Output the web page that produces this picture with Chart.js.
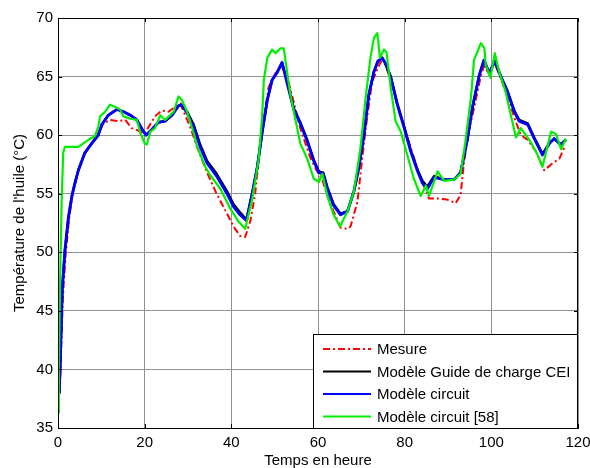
<!DOCTYPE html>
<html lang="fr">
<head>
<meta charset="utf-8">
<title>Température de l'huile</title>
<script src="https://cdn.jsdelivr.net/npm/chart.js@4.4.1/dist/chart.umd.min.js"></script>
<style>
    html, body { margin: 0; padding: 0; background: #fff; }
    #wrap { width: 590px; height: 468px; }
</style>
</head>
<body>
<div id="wrap"><canvas id="oilChart" width="590" height="468"></canvas></div>
<script>
// ===== Data (time in hours, temperature in °C) =====
const xTicks = [0, 20, 40, 60, 80, 100, 120];
const yTicks = [35, 40, 45, 50, 55, 60, 65, 70];

const mesureX = [0.3, 0.6, 1.1, 1.8, 2.6, 3.4, 4.7, 6.2, 7.8, 9.3, 10.5, 12.0, 13.9, 15.5, 17.0, 18.5, 19.9, 20.9, 22.4, 23.9, 25.5, 27.0, 28.2, 30.5, 32.1, 34.4, 36.6, 39.0, 40.5, 42.0, 43.2, 44.4, 45.5, 46.3, 47.5, 48.6, 50.2, 51.7, 52.9, 54.4, 55.9, 58.3, 59.8, 60.9, 62.1, 63.6, 65.2, 66.8, 67.5, 69.1, 70.2, 71.4, 72.5, 74.5, 75.6, 76.8, 79.0, 81.4, 83.7, 84.9, 85.6, 87.6, 89.8, 91.8, 92.9, 93.7, 94.8, 96.0, 97.6, 98.3, 99.5, 100.8, 102.2, 103.7, 105.3, 106.8, 108.4, 110.3, 112.2, 113.8, 115.7, 116.8];
const mesureY = [38.0, 40.0, 46.0, 50.0, 53.0, 55.0, 57.0, 58.4, 59.3, 60.2, 61.0, 61.3, 61.2, 61.3, 60.6, 60.4, 60.1, 60.7, 61.6, 62.1, 62.0, 62.4, 62.7, 60.7, 59.0, 56.8, 55.0, 53.3, 52.2, 51.4, 51.3, 52.7, 55.0, 57.9, 61.3, 64.1, 65.3, 65.9, 65.0, 62.8, 60.6, 58.0, 56.9, 56.3, 54.9, 53.5, 52.1, 52.0, 52.2, 54.3, 58.0, 61.7, 64.6, 66.3, 66.0, 64.6, 61.7, 58.9, 56.3, 55.3, 54.6, 54.6, 54.5, 54.2, 54.9, 57.7, 60.3, 62.3, 65.1, 65.9, 65.2, 66.1, 64.8, 63.4, 61.5, 60.0, 59.6, 58.6, 57.0, 57.5, 58.0, 58.9];

const circuitX = [0.3, 0.5, 1.0, 1.6, 2.4, 3.2, 3.9, 4.7, 6.2, 7.8, 9.3, 10.1, 11.6, 13.6, 15.1, 16.7, 18.2, 19.4, 20.3, 21.7, 23.2, 24.7, 26.3, 27.8, 28.5, 29.8, 31.3, 32.8, 34.4, 36.6, 39.0, 40.5, 42.0, 43.5, 44.8, 46.0, 47.1, 48.3, 49.4, 50.5, 51.7, 52.9, 54.4, 55.9, 57.5, 59.0, 60.2, 61.2, 62.1, 63.6, 65.2, 66.8, 68.3, 69.4, 70.6, 71.7, 72.9, 73.8, 74.8, 75.6, 76.8, 78.3, 79.9, 81.4, 83.0, 84.1, 85.2, 86.8, 89.1, 91.4, 92.9, 94.5, 95.6, 97.2, 98.3, 99.5, 100.8, 102.2, 103.7, 105.3, 106.4, 108.4, 109.9, 111.8, 113.4, 114.5, 116.0, 117.2];
const circuitY = [38.0, 40.5, 47.0, 50.2, 53.0, 54.8, 55.9, 57.0, 58.5, 59.3, 60.0, 60.9, 61.7, 62.2, 62.0, 61.7, 61.3, 60.5, 60.0, 60.5, 61.1, 61.2, 61.7, 62.5, 62.6, 61.9, 60.7, 59.0, 57.6, 56.5, 55.0, 53.9, 53.2, 52.7, 55.0, 57.3, 60.2, 63.0, 64.7, 65.3, 66.2, 64.4, 62.2, 61.0, 59.5, 57.8, 56.8, 56.7, 55.5, 54.0, 53.2, 53.5, 55.2, 57.2, 60.0, 63.4, 65.4, 66.3, 66.6, 66.1, 64.9, 62.6, 60.6, 58.6, 56.9, 55.9, 55.4, 56.4, 56.2, 56.2, 56.8, 59.7, 62.3, 65.1, 66.4, 65.3, 66.3, 65.0, 63.7, 62.0, 61.2, 60.9, 59.7, 58.3, 59.3, 59.7, 59.2, 59.6];

// Guide de charge CEI runs almost on top of the circuit model, slightly higher on the descents
const guideX = circuitX;
const guideY = [37.9, 40.4, 46.9, 50.1, 52.9, 54.8, 55.9, 57.0, 58.5, 59.3, 60.0, 60.9, 61.7, 62.2, 62.0, 61.7, 61.3, 60.5, 60.0, 60.5, 61.1, 61.2, 61.7, 62.5, 62.6, 62.0, 60.9, 59.2, 57.8, 56.7, 55.2, 54.1, 53.4, 52.8, 55.0, 57.3, 60.2, 63.0, 64.7, 65.3, 66.2, 64.5, 62.3, 61.1, 59.6, 57.9, 56.9, 56.8, 55.6, 54.1, 53.3, 53.5, 55.2, 57.2, 60.0, 63.4, 65.4, 66.3, 66.6, 66.1, 65.0, 62.7, 60.7, 58.7, 57.0, 56.1, 55.6, 56.5, 56.2, 56.2, 56.8, 59.7, 62.3, 65.1, 66.4, 65.3, 66.3, 65.0, 63.8, 62.1, 61.3, 61.0, 59.8, 58.4, 59.3, 59.7, 59.2, 59.6];

const circuit58X = [0.0, 0.2, 0.46, 0.85, 1.2, 1.6, 2.4, 4.7, 7.0, 8.5, 9.3, 9.7, 10.9, 12.0, 13.2, 14.3, 15.1, 16.7, 18.2, 19.0, 20.0, 20.5, 21.3, 22.4, 23.6, 24.7, 26.7, 27.8, 28.6, 29.8, 31.3, 32.1, 34.0, 35.1, 37.5, 39.8, 41.7, 43.2, 44.8, 46.3, 47.1, 47.5, 48.3, 49.4, 50.2, 51.3, 52.1, 53.6, 55.9, 57.5, 59.0, 60.2, 61.0, 62.1, 63.6, 65.1, 66.8, 68.3, 69.8, 71.0, 72.1, 72.9, 73.7, 74.3, 75.2, 75.8, 76.8, 77.9, 79.1, 80.6, 82.1, 83.7, 84.9, 85.6, 87.6, 89.1, 91.4, 92.9, 94.0, 95.3, 96.0, 97.6, 98.4, 98.7, 99.8, 100.8, 101.8, 103.3, 104.5, 105.7, 106.8, 109.1, 110.7, 111.8, 113.8, 114.9, 116.1, 117.2];
const circuit58Y = [36.3, 40.0, 47.1, 54.5, 58.5, 59.0, 59.0, 59.0, 59.6, 59.9, 60.7, 61.6, 62.0, 62.6, 62.4, 62.2, 61.6, 61.4, 61.3, 60.2, 59.3, 59.2, 60.3, 60.6, 61.7, 61.3, 62.0, 63.3, 63.0, 62.0, 60.2, 59.0, 57.3, 56.6, 55.4, 53.7, 52.6, 52.0, 54.5, 57.9, 61.6, 64.7, 66.6, 67.3, 67.0, 67.4, 67.4, 63.5, 59.3, 58.0, 56.3, 56.0, 56.7, 54.9, 53.2, 52.2, 53.5, 55.2, 58.9, 63.2, 66.6, 68.3, 68.7, 66.6, 67.3, 67.1, 64.0, 61.2, 60.3, 58.3, 56.3, 54.8, 55.7, 54.8, 56.9, 56.1, 56.2, 56.7, 59.4, 63.2, 66.4, 67.85, 67.4, 66.0, 64.9, 67.0, 65.4, 63.7, 61.7, 59.8, 60.6, 59.4, 58.3, 57.3, 60.3, 60.1, 58.8, 59.7];

const seriesLabels = ['Mesure', 'Modèle Guide de charge CEI', 'Modèle circuit', 'Modèle circuit [58]'];

const FONT = '"Liberation Sans", Arial, sans-serif';

function toPoints(xs, ys) {
    return xs.map((x, i) => ({ x: x, y: ys[i] }));
}

// ===== Plugin: axes box, inward ticks and the legend inside the plot =====
const matlabFrame = {
    id: 'matlabFrame',
    afterDraw(chart) {
        const ctx = chart.ctx;
        const a = chart.chartArea;
        const xs = chart.scales.x;
        const ys = chart.scales.y;
        ctx.save();

        // box
        ctx.strokeStyle = '#000';
        ctx.lineWidth = 1;
        ctx.strokeRect(a.left + 0.5, a.top + 0.5, a.right - a.left - 1, a.bottom - a.top);

        // small inward ticks on all four sides
        ctx.beginPath();
        xTicks.forEach(v => {
            const px = Math.round(xs.getPixelForValue(v)) + 0.5;
            ctx.moveTo(px, a.bottom); ctx.lineTo(px, a.bottom - 4);
            ctx.moveTo(px, a.top); ctx.lineTo(px, a.top + 4);
        });
        yTicks.forEach(v => {
            const py = Math.round(ys.getPixelForValue(v)) + 0.5;
            ctx.moveTo(a.left, py); ctx.lineTo(a.left + 4, py);
            ctx.moveTo(a.right, py); ctx.lineTo(a.right - 4, py);
        });
        ctx.stroke();

        // legend
        const ds = chart.data.datasets;
        ctx.font = '15px ' + FONT;
        const textW = Math.max(...ds.map(d => ctx.measureText(d.label).width));
        const rowH = 22.5, padL = 10, lineLen = 48, gap = 6, padR = 8;
        const w = Math.round(padL + lineLen + gap + textW + padR);
        const h = 94;
        const x0 = Math.round(a.right - w);
        const y0 = Math.round(a.bottom - h);
        ctx.fillStyle = '#fff';
        ctx.fillRect(x0, y0, w, h);
        ctx.strokeStyle = '#000';
        ctx.lineWidth = 1;
        ctx.strokeRect(x0 + 0.5, y0 + 0.5, w - 1, h);
        ctx.textBaseline = 'middle';
        ctx.textAlign = 'left';
        ds.forEach((d, i) => {
            const yy = y0 + 15 + i * rowH;
            ctx.beginPath();
            ctx.setLineDash(d.borderDash || []);
            ctx.strokeStyle = d.borderColor;
            ctx.lineWidth = 2;
            ctx.moveTo(x0 + padL, yy);
            ctx.lineTo(x0 + padL + lineLen, yy);
            ctx.stroke();
            ctx.setLineDash([]);
            ctx.fillStyle = '#000';
            ctx.fillText(d.label, x0 + padL + lineLen + gap, yy + 1);
        });
        ctx.restore();
    }
};

const whiteBg = {
    id: 'whiteBg',
    beforeDraw(chart) {
        const ctx = chart.ctx;
        ctx.save();
        ctx.fillStyle = '#fff';
        ctx.fillRect(0, 0, chart.width, chart.height);
        ctx.restore();
    }
};

const gridColor = '#8f8f8f';

new Chart(document.getElementById('oilChart'), {
    type: 'line',
    data: {
        datasets: [
            {
                label: seriesLabels[0],
                data: toPoints(mesureX, mesureY),
                borderColor: '#ff0000',
                borderWidth: 2,
                borderDash: [7, 3, 2, 3],
                order: 3
            },
            {
                label: seriesLabels[1],
                data: toPoints(guideX, guideY),
                borderColor: '#000000',
                borderWidth: 2.5,
                order: 2
            },
            {
                label: seriesLabels[2],
                data: toPoints(circuitX, circuitY),
                borderColor: '#0000ff',
                borderWidth: 2.8,
                order: 1
            },
            {
                label: seriesLabels[3],
                data: toPoints(circuit58X, circuit58Y),
                borderColor: '#00ee00',
                borderWidth: 2.2,
                order: 0
            }
        ]
    },
    options: {
        responsive: false,
        animation: false,
        elements: {
            point: { radius: 0 },
            line: { tension: 0, fill: false, borderJoinStyle: 'round' }
        },
        layout: { padding: { top: 18, right: 0, left: 0, bottom: 0 } },
        plugins: {
            legend: { display: false },
            tooltip: { enabled: false }
        },
        scales: {
            x: {
                type: 'linear',
                min: 0,
                max: 120,
                afterBuildTicks: (scale) => { scale.ticks = xTicks.map(v => ({ value: v })); },
                afterFit: (scale) => {
                    scale.height = 40;
                    scale.paddingLeft = 0;
                    scale.paddingRight = 12;
                },
                ticks: { color: '#000', font: { family: FONT, size: 15 }, padding: 6, maxRotation: 0 },
                grid: { color: gridColor, drawTicks: false },
                border: { display: true, color: '#000' },
                title: {
                    display: true,
                    text: 'Temps en heure',
                    color: '#000',
                    font: { family: FONT, size: 15 },
                    padding: { top: 0, bottom: -2 }
                }
            },
            y: {
                type: 'linear',
                min: 35,
                max: 70,
                afterBuildTicks: (scale) => { scale.ticks = yTicks.map(v => ({ value: v })); },
                afterFit: (scale) => {
                    scale.width = 58;
                    scale.paddingTop = 0;
                    scale.paddingBottom = 0;
                },
                ticks: { color: '#000', font: { family: FONT, size: 15 }, padding: 5 },
                grid: { color: gridColor, drawTicks: false },
                border: { display: true, color: '#000' },
                title: {
                    display: true,
                    text: "Température de l'huile (°C)",
                    color: '#000',
                    font: { family: FONT, size: 15 },
                    padding: { top: 11, bottom: 0 }
                }
            }
        }
    },
    plugins: [whiteBg, matlabFrame]
});
</script>
</body>
</html>
